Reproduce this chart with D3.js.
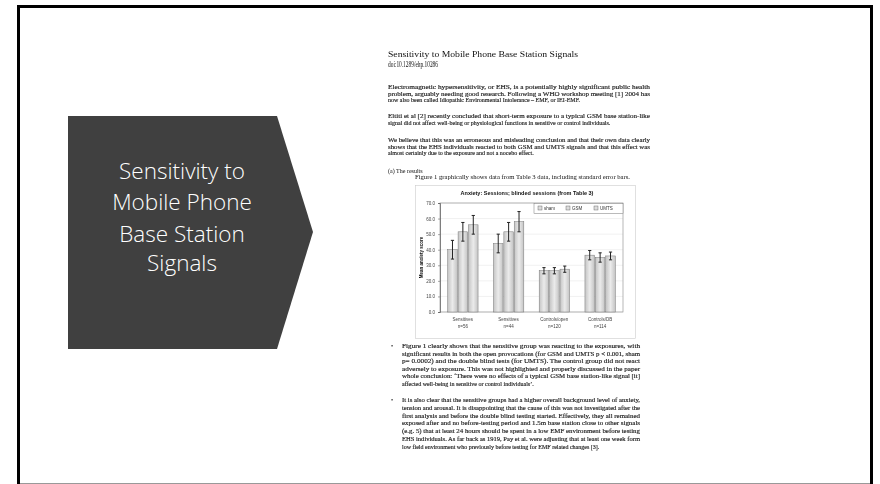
<!DOCTYPE html>
<html>
<head>
<meta charset="utf-8">
<script src="https://cdn.jsdelivr.net/npm/d3@7"></script>
<style>
  body { margin: 0; background: #fff; }
  svg { display: block; }
</style>
</head>
<body>
<svg id="slide" width="880" height="484"></svg>
<script>
// chart values (anxiety score, Table 3)
var groups = ["Sensitives", "Sensitives", "Controls/open", "Controls/DB"];
var groupN = ["n=56", "n=44", "n=120", "n=114"];
var series = ["sham", "GSM", "UMTS"];
var shamVals = [40, 44, 26.5, 36.5];
var gsmVals = [51.5, 51.5, 26.5, 35];
var umtsVals = [56, 58, 27.5, 36];
var shamErr = [6, 6, 2, 3];
var gsmErr = [6, 6, 2, 3];
var umtsErr = [6, 6.5, 2, 2.5];
var yTicks = [0, 10, 20, 30, 40, 50, 60, 70];

var titleLines = ["Sensitivity to", "Mobile Phone", "Base Station", "Signals"];

var svg = d3.select("#slide");

// slide frame
svg.append("rect").attr("x", 18.5).attr("y", 6.5).attr("width", 853).attr("height", 480)
  .attr("fill", "#fff").attr("stroke", "#000").attr("stroke-width", 3);
svg.append("line").attr("x1", 20).attr("x2", 870).attr("y1", 483.5).attr("y2", 483.5)
  .attr("stroke", "#999");

// dark arrow box on the left
var arrowPts = [[68, 116], [277, 116], [313, 232], [277, 349], [68, 349]];
svg.append("path")
  .attr("d", d3.line()(arrowPts) + "Z")
  .attr("fill", "#404040");

svg.append("g").selectAll("text")
  .data(titleLines)
  .enter().append("text")
  .attr("x", 182)
  .attr("y", function (d, i) { return [179, 210, 242, 271][i]; })
  .attr("text-anchor", "middle")
  .attr("font-family", "'Open Sans', Lato, sans-serif")
  .attr("font-weight", 300)
  .attr("font-size", 22.5)
  .attr("fill", "#fff")
  .text(function (d) { return d; });

// scanned page -- blur so it looks like a photocopy
var defs = svg.append("defs");
defs.append("filter").attr("id", "scan")
  .append("feGaussianBlur").attr("stdDeviation", 0.5);

var grad = defs.append("linearGradient").attr("id", "barFill")
  .attr("x1", "0").attr("x2", "1").attr("y1", "0").attr("y2", "0");
grad.append("stop").attr("offset", "0%").attr("stop-color", "#c4c4c4");
grad.append("stop").attr("offset", "50%").attr("stop-color", "#ebebeb");
grad.append("stop").attr("offset", "100%").attr("stop-color", "#c4c4c4");

var page = svg.append("g").attr("filter", "url(#scan)")
  .attr("font-family", "'Liberation Serif', 'DejaVu Serif', serif")
  .attr("fill", "#111");

// lines of the page text, each stretched to the column width like the scan
var writeBlock = function (lines, x, y0, step, width, size) {
  page.append("g").selectAll("text")
    .data(lines)
    .enter().append("text")
    .attr("x", x)
    .attr("y", function (d, i) { return y0 + i * step; })
    .attr("font-size", size)
    .attr("stroke", "#333").attr("stroke-width", 0.15)
    .attr("textLength", function (d, i) { return i < lines.length - 1 ? width : null; })
    .attr("lengthAdjust", "spacingAndGlyphs")
    .text(function (d) { return d; });
};

page.append("text").attr("x", 388).attr("y", 57).attr("font-size", 8)
  .attr("textLength", 190).attr("lengthAdjust", "spacingAndGlyphs")
  .text("Sensitivity to Mobile Phone Base Station Signals");
page.append("text").attr("x", 388).attr("y", 67).attr("font-size", 8)
  .attr("textLength", 50).attr("lengthAdjust", "spacingAndGlyphs")
  .text("doi:10.1289/ehp.10286");

writeBlock([
  "Electromagnetic hypersensitivity, or EHS, is a potentially highly significant public health",
  "problem, arguably needing good research. Following a WHO workshop meeting [1] 2004 has",
  "now also been called Idiopathic Environmental Intolerance – EMF, or IEI-EMF."
], 388, 89, 6.7, 262, 6);

writeBlock([
  "Eltiti et al [2] recently concluded that short-term exposure to a typical GSM base station-like",
  "signal did not affect well-being or physiological functions in sensitive or control individuals."
], 388, 118, 6.7, 262, 6);

writeBlock([
  "We believe that this was an erroneous and misleading conclusion and that their own data clearly",
  "shows that the EHS individuals reacted to both GSM and UMTS signals and that this effect was",
  "almost certainly due to the exposure and not a nocebo effect."
], 388, 142, 6.7, 262, 6);

page.append("text").attr("x", 388).attr("y", 173).attr("font-size", 6)
  .text("(a) The results");
page.append("text").attr("x", 415).attr("y", 179).attr("font-size", 6)
  .attr("textLength", 215).attr("lengthAdjust", "spacingAndGlyphs")
  .text("Figure 1 graphically shows data from Table 3 data, including standard error bars.");

// bullets below the figure
page.append("text").attr("x", 391).attr("y", 348).attr("font-size", 6).text("•");
writeBlock([
  "Figure 1 clearly shows that the sensitive group was reacting to the exposures, with",
  "significant results in both the open provocations (for GSM and UMTS p < 0.001, sham",
  "p= 0.0002) and the double blind tests (for UMTS). The control group did not react",
  "adversely to exposure. This was not highlighted and properly discussed in the paper",
  "whole conclusion: \u2018There were no effects of a typical GSM base station-like signal [it]",
  "affected well-being in sensitive or control individuals\u2019."
], 402, 348, 7.6, 238, 6);

page.append("text").attr("x", 391).attr("y", 402).attr("font-size", 6).text("•");
writeBlock([
  "It is also clear that the sensitive groups had a higher overall background level of anxiety,",
  "tension and arousal. It is disappointing that the cause of this was not investigated after the",
  "first analysis and before the double blind testing started. Effectively, they all remained",
  "exposed after and no before-testing period and 1.5m base station close to other signals",
  "(e.g. 5) that at least 24 hours should be spent in a low EMF environment before testing",
  "EHS individuals. As far back as 1919, Pay et al. were adjusting that at least one week form",
  "low field environment who previously before testing for EMF related changes [3]."
], 402, 402, 7.8, 238, 6);

// ---- the bar chart on the page ----
var plot = { left: 440, right: 623, top: 203, bottom: 312 };

var fig = page.append("g");
fig.append("rect").attr("x", 415.5).attr("y", 185.5).attr("width", 220).attr("height", 153)
  .attr("fill", "none").attr("stroke", "#ccc").attr("stroke-width", 0.6);

var x0 = d3.scaleBand().domain(d3.range(groups.length))
  .range([plot.left, plot.right]).paddingInner(0.3).paddingOuter(0.15);
var x1 = d3.scaleBand().domain(series).range([0, x0.bandwidth()]).padding(0.08);
var y = d3.scaleLinear().domain([0, 70]).range([plot.bottom, plot.top]);

// grid, faint as in the scan
fig.append("g").selectAll("line")
  .data(yTicks)
  .enter().append("line")
  .attr("x1", plot.left).attr("x2", plot.right)
  .attr("y1", function (d) { return y(d); }).attr("y2", function (d) { return y(d); })
  .attr("stroke", "#e2e2e2").attr("stroke-width", 0.5);

fig.append("rect").attr("x", plot.left).attr("y", plot.top)
  .attr("width", plot.right - plot.left).attr("height", plot.bottom - plot.top)
  .attr("fill", "none").attr("stroke", "#999").attr("stroke-width", 0.7);

var yAxis = fig.append("g").attr("transform", "translate(" + plot.left + ",0)")
  .call(d3.axisLeft(y).tickValues(yTicks).tickSize(2).tickFormat(d3.format(".1f")));
yAxis.select(".domain").attr("stroke", "#555").attr("stroke-width", 0.7);
yAxis.selectAll(".tick line").attr("stroke", "#555").attr("stroke-width", 0.5);
yAxis.selectAll("text").attr("font-size", 4.5).attr("fill", "#444")
  .attr("font-family", "Arial, 'Liberation Sans', sans-serif");

fig.append("text")
  .attr("transform", "translate(423," + (plot.top + plot.bottom) / 2 + ") rotate(-90)")
  .attr("text-anchor", "middle").attr("font-size", 4.5).attr("font-weight", "bold")
  .attr("font-family", "Arial, 'Liberation Sans', sans-serif")
  .text("Mean anxiety score");

fig.append("text").attr("x", 527).attr("y", 195).attr("text-anchor", "middle")
  .attr("font-size", 5.5).attr("font-weight", "bold")
  .attr("font-family", "Arial, 'Liberation Sans', sans-serif")
  .text("Anxiety: Sessions; blinded sessions (from Table 3)");

var rows = groups.map(function (g, i) {
  return [
    { s: "sham", v: shamVals[i], e: shamErr[i] },
    { s: "GSM", v: gsmVals[i], e: gsmErr[i] },
    { s: "UMTS", v: umtsVals[i], e: umtsErr[i] }
  ];
});

var grp = fig.append("g").selectAll("g")
  .data(rows)
  .enter().append("g")
  .attr("transform", function (d, i) { return "translate(" + x0(i) + ",0)"; });

grp.selectAll("rect")
  .data(function (d) { return d; })
  .enter().append("rect")
  .attr("x", function (d) { return x1(d.s); })
  .attr("y", function (d) { return y(d.v); })
  .attr("width", x1.bandwidth())
  .attr("height", function (d) { return y(0) - y(d.v); })
  .attr("fill", "url(#barFill)")
  .attr("stroke", "#777").attr("stroke-width", 0.5);

// error bars
var eb = grp.selectAll("g.err")
  .data(function (d) { return d; })
  .enter().append("g").attr("class", "err")
  .attr("stroke", "#222").attr("stroke-width", 1);
eb.append("line")
  .attr("x1", function (d) { return x1(d.s) + x1.bandwidth() / 2; })
  .attr("x2", function (d) { return x1(d.s) + x1.bandwidth() / 2; })
  .attr("y1", function (d) { return y(d.v - d.e); })
  .attr("y2", function (d) { return y(d.v + d.e); });
[-1, 1].forEach(function (sign) {
  eb.append("line")
    .attr("x1", function (d) { return x1(d.s) + x1.bandwidth() / 2 - 1.6; })
    .attr("x2", function (d) { return x1(d.s) + x1.bandwidth() / 2 + 1.6; })
    .attr("y1", function (d) { return y(d.v + sign * d.e); })
    .attr("y2", function (d) { return y(d.v + sign * d.e); });
});

// category labels
fig.append("g").selectAll("text")
  .data(groups)
  .enter().append("text")
  .attr("text-anchor", "middle")
  .attr("font-size", 4.5).attr("fill", "#444")
  .attr("font-family", "Arial, 'Liberation Sans', sans-serif")
  .attr("x", function (d, i) { return x0(i) + x0.bandwidth() / 2; })
  .attr("y", 321)
  .text(function (d) { return d; });
fig.append("g").selectAll("text")
  .data(groupN)
  .enter().append("text")
  .attr("text-anchor", "middle")
  .attr("font-size", 4.5).attr("fill", "#444")
  .attr("font-family", "Arial, 'Liberation Sans', sans-serif")
  .attr("x", function (d, i) { return x0(i) + x0.bandwidth() / 2; })
  .attr("y", 328)
  .text(function (d) { return d; });

// legend
fig.append("rect").attr("x", 534).attr("y", 203.5).attr("width", 89).attr("height", 10)
  .attr("fill", "#fff").attr("stroke", "#777").attr("stroke-width", 0.5);
var lg = fig.append("g").selectAll("g")
  .data(series)
  .enter().append("g")
  .attr("transform", function (d, i) { return "translate(" + (538 + i * 28) + ",206)"; });
lg.append("rect").attr("width", 4).attr("height", 4)
  .attr("fill", "#ddd").attr("stroke", "#555").attr("stroke-width", 0.4);
lg.append("text").attr("x", 6).attr("y", 4)
  .attr("font-size", 4.5).attr("fill", "#333")
  .attr("font-family", "Arial, 'Liberation Sans', sans-serif")
  .text(function (d) { return d; });
</script>
</body>
</html>
